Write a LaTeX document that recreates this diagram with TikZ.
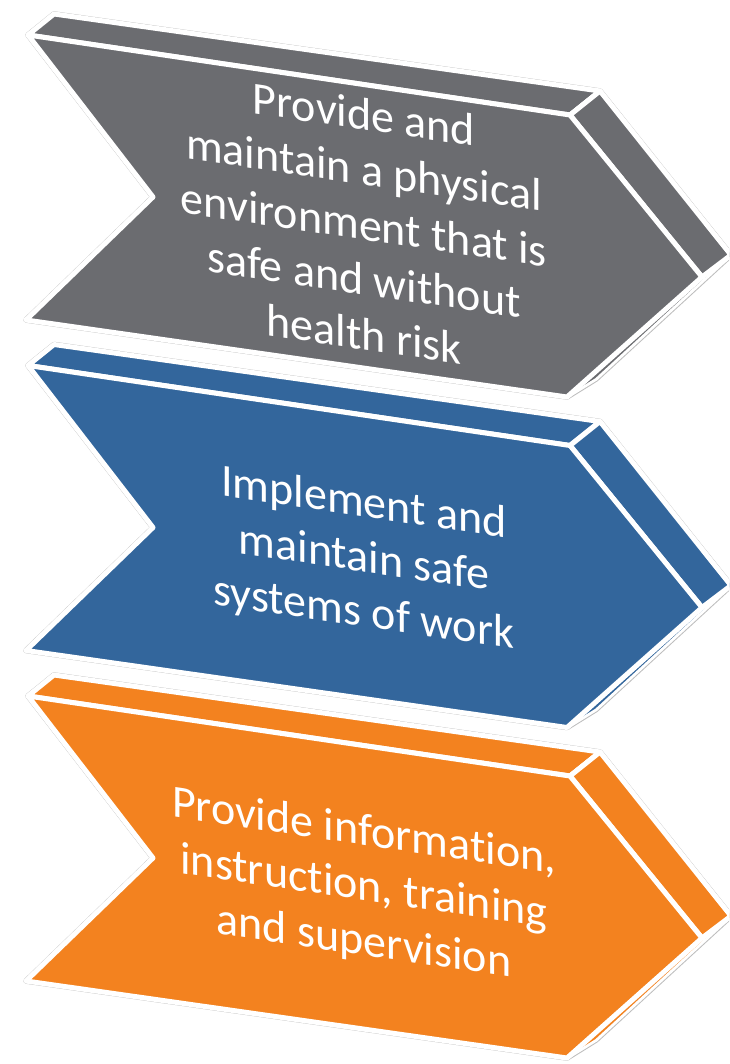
\documentclass[tikz,border=0pt]{standalone}
\usepackage{fontspec}
\setmainfont{Carlito}[RawFeature={-liga}]
\definecolor{cgray}{HTML}{6B6C70}
\definecolor{cblue}{HTML}{33669C}
\definecolor{corange}{HTML}{F3821F}
\definecolor{cline}{HTML}{BDBDBD}
\tikzset{
  silout/.style={draw=cline, line width=5.5pt, line join=round},
  silin/.style={draw=white, line width=3.5pt, line join=round},
  face/.style={fill=#1, draw=white, line width=5pt, line join=round},
  thinface/.style={fill=#1, draw=white, line width=2pt, line join=round},
  txt/.style={text=white, align=center, inner sep=0pt,
    font=\fontsize{46}{55}\selectfont, yslant=-0.148}
}
\newcommand{\chevronshape}[1]{%
  \coordinate (A) at (28,35);   \coordinate (Ap) at (54,14);
  \coordinate (B) at (570,115); \coordinate (Bp) at (600,91);
  \coordinate (C) at (702,277); \coordinate (Cp) at (731,255);
  \coordinate (D) at (567,397); \coordinate (Dp) at (596,379);
  \coordinate (E) at (26,320);
  \coordinate (F) at (153,197);
  \path[silout] (Ap) -- (Bp) -- (Cp) -- (Dp) -- (D) -- (E) -- (F) -- (A) -- cycle;
  \path[silin]  (Ap) -- (Bp) -- (Cp) -- (Dp) -- (D) -- (E) -- (F) -- (A) -- cycle;
  \path[thinface=#1] (C) -- (D) -- (Dp) -- (Cp) -- cycle;
  \path[face=#1] (A) -- (B) -- (Bp) -- (Ap) -- cycle;
  \path[face=#1] (B) -- (C) -- (Cp) -- (Bp) -- cycle;
  \path[face=#1] (A) -- (B) -- (C) -- (D) -- (E) -- (F) -- cycle;
}
\begin{document}
\begin{tikzpicture}[x=1pt,y=-1pt]
\useasboundingbox (0,0) rectangle (729,1064);
\clip (0,0) rectangle (729,1064);
\fill[white] (0,0) rectangle (729,1064);
\begin{scope}
  \chevronshape{cgray}
  \node[txt] (t1) at (364,224) {Provide and\\maintain a physical\\environment that is\\safe and without\\health risk};
\end{scope}
\begin{scope}[shift={(0,330.5)}]
  \chevronshape{cblue}
  \node[txt] (t2) at (364,229) {Implement and\\maintain safe\\systems of work};
\end{scope}
\begin{scope}[shift={(0,661)}]
  \chevronshape{corange}
  \node[txt] (t3) at (364,227) {Provide information,\\instruction, training\\and supervision};
\end{scope}
\end{tikzpicture}
\end{document}
